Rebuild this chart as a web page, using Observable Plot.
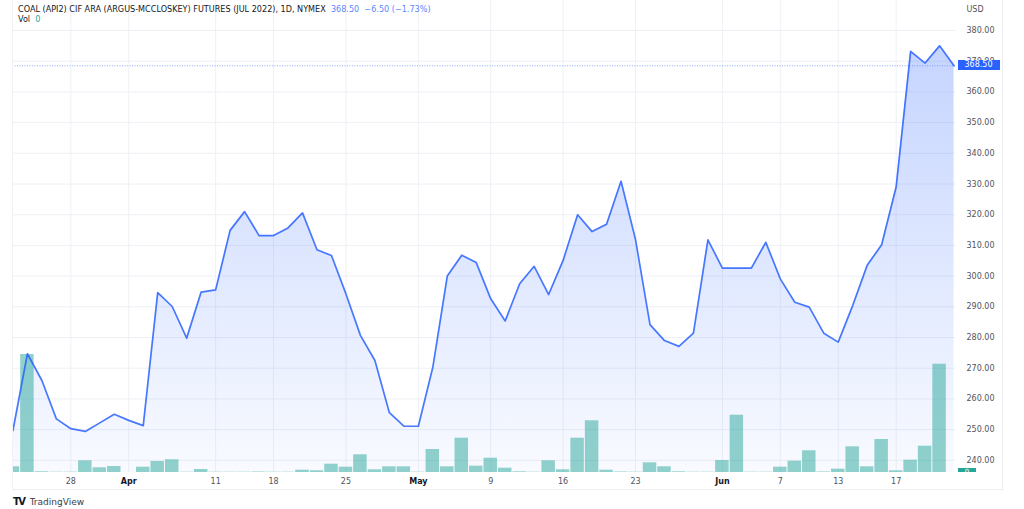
<!DOCTYPE html>
<html><head><meta charset="utf-8">
<script src="https://cdn.jsdelivr.net/npm/d3@7"></script>
<script src="https://cdn.jsdelivr.net/npm/@observablehq/plot@0.6"></script>
<style>
body{margin:0;background:#fff;font-family:"DejaVu Sans",sans-serif;}
#wrap{position:relative;width:1024px;height:509px;overflow:hidden;background:#fff;}
#wrap svg{position:absolute;left:0;top:0;}
.ov{position:absolute;white-space:nowrap;}
</style></head><body><div id="wrap"></div>
<script>
// ---- data ----
const dates = [
 "2022-03-22","2022-03-23","2022-03-24","2022-03-25","2022-03-28","2022-03-29","2022-03-30","2022-03-31",
 "2022-04-01","2022-04-04","2022-04-05","2022-04-06","2022-04-07","2022-04-08","2022-04-11","2022-04-12",
 "2022-04-13","2022-04-14","2022-04-18","2022-04-19","2022-04-20","2022-04-21","2022-04-22","2022-04-25",
 "2022-04-26","2022-04-27","2022-04-28","2022-04-29",
 "2022-05-02","2022-05-03","2022-05-04","2022-05-05","2022-05-06","2022-05-09","2022-05-10","2022-05-11",
 "2022-05-12","2022-05-13","2022-05-16","2022-05-17","2022-05-18","2022-05-19","2022-05-20","2022-05-23",
 "2022-05-24","2022-05-25","2022-05-26","2022-05-27","2022-05-31",
 "2022-06-01","2022-06-02","2022-06-03","2022-06-06","2022-06-07","2022-06-08","2022-06-09","2022-06-10",
 "2022-06-13","2022-06-14","2022-06-15","2022-06-16","2022-06-17","2022-06-20","2022-06-21","2022-06-22","2022-06-23"
];
const prices = [
 249.7,274.7,266.0,253.5,250.3,249.4,252.2,255.0,
 253.0,251.3,294.6,290.1,279.8,294.8,295.5,314.9,
 321.0,313.2,313.2,315.7,320.6,308.6,306.7,294.2,
 280.7,272.5,255.5,251.1,
 251.1,270.3,300.0,306.8,304.4,292.6,285.4,297.5,
 303.2,294.0,305.1,320.0,314.5,316.9,330.9,311.9,
 284.2,279.0,277.1,281.4,311.8,
 302.6,302.6,302.6,311.0,299.1,291.5,289.9,281.4,
 278.5,290.4,303.5,310.2,329.0,373.2,369.4,375.0,368.5
];
const volumes = [
 57,1180,7,3,3,117,47,60,
 0,53,110,127,3,30,3,3,
 3,5,3,3,23,17,83,53,
 177,27,57,57,
 3,230,57,343,63,143,43,7,
 3,117,27,343,517,23,5,3,
 97,57,7,3,3,
 120,573,3,3,53,113,217,5,
 33,257,57,330,17,123,263,1083,0
];
const tickDates  = ["2022-03-28","2022-04-01","2022-04-11","2022-04-18","2022-04-25","2022-05-02","2022-05-09","2022-05-16","2022-05-23","2022-06-01","2022-06-07","2022-06-13","2022-06-17"];
const tickLabels = ["28","Apr","11","18","25","May","9","16","23","Jun","7","13","17"];
const monthLabels = ["Apr","May","Jun"];
const priceTicks = [240,250,260,270,280,290,300,310,320,330,340,350,360,370,380];
const titleText = "COAL (API2) CIF ARA (ARGUS-MCCLOSKEY) FUTURES (JUL 2022), 1D, NYMEX";
const lastPrice = 368.50, priceChange = -6.50, pctChange = -1.73;
const lastVol = 0;

// ---- build ----
const data = dates.map((d, i) => ({i, date: d, price: prices[i], vol: volumes[i]}));
const tickIdx = tickDates.map(d => dates.indexOf(d));
const labelOf = i => tickLabels[tickIdx.indexOf(i)];
const dayIdx = tickIdx.filter(i => !monthLabels.includes(labelOf(i)));
const monIdx = tickIdx.filter(i => monthLabels.includes(labelOf(i)));
const Y0 = 236.03, Y1 = 389.77;
const volK = 0.25 * (Y1 - Y0) / d3.max(volumes);

const defs = () => {
  const s = d3.create("svg:defs");
  const g = s.append("linearGradient").attr("id", "areaGrad").attr("x1", 0).attr("x2", 0).attr("y1", 0).attr("y2", 1);
  g.append("stop").attr("offset", "0%").attr("stop-color", "#2962ff").attr("stop-opacity", 0.27);
  g.append("stop").attr("offset", "100%").attr("stop-color", "#2962ff").attr("stop-opacity", 0.03);
  return s.node();
};

const plot = Plot.plot({
  width: 1024, height: 509,
  marginLeft: 12, marginRight: 69, marginTop: 0, marginBottom: 37,
  x: {type: "linear", domain: [-0.03, 65.1]},
  y: {domain: [Y0, Y1]},
  style: {fontFamily: "DejaVu Sans, sans-serif", fontSize: "8px", background: "transparent", overflow: "visible"},
  marks: [
    defs,
    Plot.gridY(priceTicks, {stroke: "#eef0f6", strokeOpacity: 1}),
    Plot.gridX(tickIdx, {stroke: "#eef0f6", strokeOpacity: 1}),
    Plot.areaY(data, {x: "i", y1: Y0, y2: "price", fill: "url(#areaGrad)"}),
    Plot.rectY(data, {x1: d => d.i - 0.5, x2: d => d.i + 0.5, y1: Y0, y2: d => Y0 + d.vol * volK,
      fill: "#26a69a", fillOpacity: 0.5, insetLeft: 0.5, insetRight: 0.5, clip: true}),
    Plot.ruleY([lastPrice], {stroke: "#5b86ff", strokeDasharray: "1,1.5", strokeOpacity: 0.7}),
    Plot.line(data, {x: "i", y: "price", stroke: "#2962ff", strokeWidth: 1.7, strokeOpacity: 0.85}),
    Plot.axisY(priceTicks, {anchor: "right", tickSize: 0, tickPadding: 11, label: null,
      tickFormat: d => d.toFixed(2), fill: "#50535e"}),
    Plot.axisX(dayIdx, {tickSize: 0, tickPadding: 6, label: null, tickFormat: labelOf, fill: "#50535e"}),
    Plot.axisX(monIdx, {tickSize: 0, tickPadding: 6, label: null, tickFormat: labelOf, fill: "#131722", fontWeight: "bold"}),
    Plot.text(["USD"], {frameAnchor: "top-right", dx: 11, dy: 6, textAnchor: "start", fill: "#50535e"})
  ]
});
const wrap = document.getElementById("wrap");
wrap.appendChild(plot);

const ys = plot.scale("y").apply;
const xs = plot.scale("x").apply;
const xr = xs(65.1);

function ov(html, css) {
  const d = document.createElement("div");
  d.className = "ov"; d.innerHTML = html; Object.assign(d.style, css); wrap.appendChild(d); return d;
}
// frame
ov("", {left: "12px", top: "489px", width: "990px", height: "1px", background: "#eceef2"});
ov("", {left: "1002px", top: "0px", width: "1px", height: "490px", background: "#eceef2"});
ov("", {left: "12px", top: "0px", width: "1px", height: "490px", background: "#f1f2f6"});
// last price label
ov(lastPrice.toFixed(2), {left: (xr + 2.5) + "px", top: (ys(lastPrice) - 5) + "px", width: "42px", height: "10px",
  background: "#2962ff", color: "#fff", fontSize: "8px", lineHeight: "10px", textAlign: "center"});
// last volume label
const vb = ov("", {left: (xr + 3) + "px", top: (ys(Y0) - 4.5) + "px", width: "18px", height: "4.5px", overflow: "hidden"});
vb.innerHTML = `<div style="background:#26a69a;color:#fff;font-size:7px;line-height:9px;height:9px;text-align:center">${lastVol}</div>`;
// legend / title
const sign = v => (v < 0 ? "\u2212" : "+") + Math.abs(v).toFixed(2);
ov(`<span style="color:#131722">${titleText}</span>&nbsp; <span style="color:#5b86ff">${lastPrice.toFixed(2)}&nbsp; ${sign(priceChange)} (${sign(pctChange)}%)</span>`,
  {left: "18px", top: "3.5px", fontSize: "8.1px", lineHeight: "10px"});
ov(`<span style="color:#131722">Vol</span>&nbsp; <span style="color:#26a69a">${lastVol}</span>`,
  {left: "18px", top: "14px", fontSize: "8.1px", lineHeight: "10px"});
// brand
ov(`<span style="font-weight:900;font-size:10px;letter-spacing:-1.5px;font-family:'DejaVu Sans'">TV</span>&nbsp;<span style="font-size:9px;color:#3a3d45">TradingView</span>`,
  {left: "13px", top: "494px", color: "#131722", lineHeight: "12px"});
</script>
</body></html>
